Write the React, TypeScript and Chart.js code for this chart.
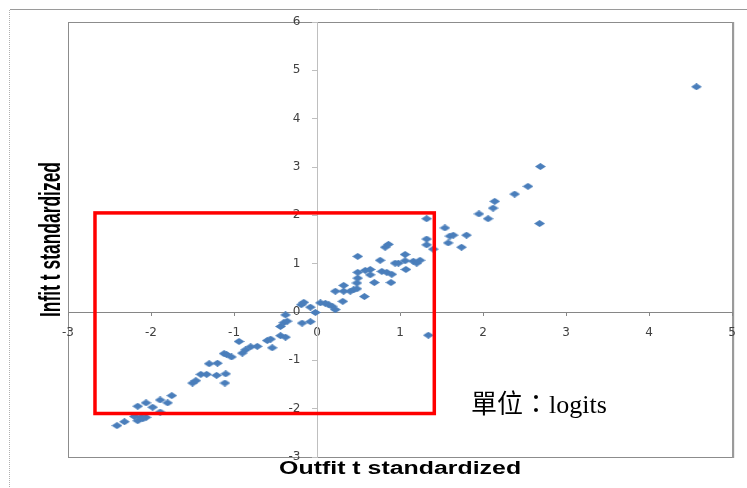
import React, { useEffect, useRef } from "react";
import { Chart, registerables } from "chart.js";

Chart.register(...registerables);

// Outfit t standardized (x) and Infit t standardized (y)
const OUTFIT_T: number[] = [
  -2.41, -2.32, -2.2, -2.12, -2.06, -2.16, -2.1, -2.16, -2.06, -1.98,
  -1.89, -1.8, -1.75, -1.89, -1.5, -1.46, -1.4, -1.33, -1.21, -1.1,
  -1.11, -1.3, -1.2, -1.12, -1.03, -1.09, -0.94, -0.9, -0.86, -0.8,
  -0.72, -0.6, -0.56, -0.54, -0.44, -0.38, -0.44, -0.4, -0.36, -0.38,
  -0.19, -0.16, -0.08, -0.18, -0.08, -0.02, 0.04, 0.1, 0.14, 0.18,
  0.22, 0.31, 0.22, 0.32, 0.32, 0.4, 0.44, 0.48, 0.48, 0.49,
  0.49, 0.49, 0.57, 0.58, 0.64, 0.64, 0.69, 0.76, 0.78, 0.84,
  0.9, 0.89, 0.82, 0.86, 0.94, 0.98, 1.06, 1.06, 1.07, 1.16,
  1.2, 1.24, 1.32, 1.32, 1.32, 1.4, 1.34, 1.54, 1.6, 1.64,
  1.58, 1.74, 1.8, 1.95, 2.06, 2.12, 2.14, 2.38, 2.54, 2.69,
  2.68, 4.57,
];
const INFIT_T: number[] = [
  -2.35, -2.27, -2.16, -2.17, -2.18, -2.25, -2.21, -1.95, -1.88, -1.97,
  -1.82, -1.88, -1.73, -2.07, -1.47, -1.42, -1.29, -1.29, -1.31, -1.28,
  -1.47, -1.07, -1.06, -0.86, -0.93, -0.88, -0.61, -0.85, -0.78, -0.72,
  -0.71, -0.59, -0.56, -0.74, -0.49, -0.52, -0.3, -0.22, -0.19, -0.06,
  0.15, 0.2, 0.1, -0.23, -0.2, -0.01, 0.19, 0.18, 0.15, 0.12,
  0.05, 0.22, 0.43, 0.43, 0.55, 0.43, 0.46, 0.48, 0.6, 0.7,
  0.82, 1.15, 0.32, 0.86, 0.88, 0.77, 0.61, 1.07, 0.84, 0.82,
  0.78, 0.61, 1.34, 1.4, 1.01, 1.01, 1.19, 1.06, 0.88, 1.05,
  1.01, 1.07, 1.93, 1.51, 1.39, 1.3, -0.48, 1.74, 1.57, 1.59,
  1.43, 1.34, 1.59, 2.03, 1.93, 2.15, 2.29, 2.44, 2.6, 3.01,
  1.83, 4.66,
];

const X_MIN = -3;
const X_MAX = 5;
const Y_MIN = -3;
const Y_MAX = 6;

const X_TITLE = "Outfit t standardized";
const Y_TITLE = "Infit t standardized";
const NOTE = "單位：logits";

// highlighted region (data units)
const BOX_X: number[] = [-2.675, 1.412];
const BOX_Y: number[] = [-2.1, 2.05];

const POINT_COLOR = "#4a7ebb";
const TICK_FONT = { family: "'DejaVu Sans', sans-serif", size: 12 };

function makeDiamond(): HTMLCanvasElement {
  const c = document.createElement("canvas");
  c.width = 11;
  c.height = 7;
  const g = c.getContext("2d")!;
  g.fillStyle = POINT_COLOR;
  g.beginPath();
  g.moveTo(5.5, 0);
  g.lineTo(11, 3.5);
  g.lineTo(5.5, 7);
  g.lineTo(0, 3.5);
  g.closePath();
  g.fill();
  return c;
}

const decor = {
  id: "decor",
  beforeDraw(chart: any) {
    const { ctx, chartArea: ca, width, height } = chart;
    ctx.save();
    ctx.fillStyle = "#ffffff";
    ctx.fillRect(0, 0, width, height);
    // outer frame
    ctx.strokeStyle = "#9a9a9a";
    ctx.lineWidth = 1;
    ctx.beginPath();
    ctx.moveTo(10, 9.5);
    ctx.lineTo(width, 9.5);
    ctx.stroke();
    ctx.strokeStyle = "#b0b0b0";
    ctx.setLineDash([1, 1]);
    ctx.beginPath();
    ctx.moveTo(9.5, 10);
    ctx.lineTo(9.5, height);
    ctx.stroke();
    ctx.setLineDash([]);
    // plot area border
    ctx.strokeStyle = "#8c8c8c";
    ctx.lineWidth = 1;
    ctx.strokeRect(ca.left + 0.5, ca.top + 0.5, ca.right - ca.left, ca.bottom - ca.top);
    ctx.strokeStyle = "#9a9a9a";
    ctx.lineWidth = 2;
    ctx.beginPath();
    ctx.moveTo(ca.right + 1, ca.top);
    ctx.lineTo(ca.right + 1, ca.bottom + 1);
    ctx.stroke();
    ctx.restore();
  },
  afterDatasetsDraw(chart: any) {
    const { ctx } = chart;
    const xs = chart.scales.x;
    const ys = chart.scales.y;
    const l = xs.getPixelForValue(BOX_X[0]);
    const r = xs.getPixelForValue(BOX_X[1]);
    const t = ys.getPixelForValue(BOX_Y[1]);
    const b = ys.getPixelForValue(BOX_Y[0]);
    ctx.save();
    ctx.strokeStyle = "#ff0000";
    ctx.lineWidth = 3.5;
    ctx.strokeRect(l, t, r - l, b - t);
    ctx.restore();
  },
  afterDraw(chart: any) {
    const { ctx, chartArea: ca } = chart;
    ctx.save();
    ctx.fillStyle = "#000000";
    // x title
    ctx.font = "bold 17px 'Liberation Sans', Arial, sans-serif";
    ctx.textAlign = "center";
    ctx.textBaseline = "alphabetic";
    const wx = ctx.measureText(X_TITLE).width;
    ctx.save();
    ctx.translate((ca.left + ca.right) / 2, 473.5);
    ctx.scale(242 / wx, 1.03);
    ctx.fillText(X_TITLE, 0, 0);
    ctx.restore();
    // y title
    const wy = ctx.measureText(Y_TITLE).width;
    ctx.save();
    ctx.translate(60, (ca.top + ca.bottom) / 2);
    ctx.rotate(-Math.PI / 2);
    ctx.scale(155 / wy, 21.7 / (0.716 * 17));
    ctx.fillText(Y_TITLE, 0, 0);
    ctx.restore();
    // note
    ctx.font = "26px 'Liberation Serif', 'Noto Sans CJK TC', serif";
    ctx.textAlign = "left";
    ctx.fillText(NOTE, 471, 413);
    ctx.restore();
  },
};

export default function App() {
  const ref = useRef<HTMLCanvasElement | null>(null);
  useEffect(() => {
    if (!ref.current) return;
    const diamond = makeDiamond();
    const points = OUTFIT_T.map((x, i) => ({ x, y: INFIT_T[i] }));
    const chart = new Chart(ref.current, {
      type: "scatter",
      data: {
        datasets: [
          {
            label: "items",
            data: points,
            pointStyle: diamond as any,
            pointRadius: 5,
            backgroundColor: POINT_COLOR,
            borderColor: POINT_COLOR,
          },
        ],
      },
      options: {
        animation: false,
        responsive: false,
        maintainAspectRatio: false,
        devicePixelRatio: 1,
        layout: { padding: { left: 68, top: 22, right: 13, bottom: 31 } },
        plugins: { legend: { display: false }, tooltip: { enabled: false } },
        scales: {
          x: {
            type: "linear",
            min: X_MIN,
            max: X_MAX,
            position: { y: 0 } as any,
            ticks: {
              stepSize: 1,
              autoSkip: false,
              maxRotation: 0,
              padding: 11,
              color: "#404040",
              font: TICK_FONT,
            },
            grid: { drawOnChartArea: false, drawTicks: true, tickLength: 3, color: "#868686" },
            border: { display: true, color: "#868686", width: 1 },
          },
          y: {
            type: "linear",
            min: Y_MIN,
            max: Y_MAX,
            position: { x: 0 } as any,
            ticks: { stepSize: 1, display: false },
            grid: { drawOnChartArea: false, drawTicks: true, tickLength: 5, color: "#bfbfbf" },
            border: { display: true, color: "#bfbfbf", width: 1 },
          },
          yLabels: {
            type: "linear",
            axis: "y",
            min: Y_MIN,
            max: Y_MAX,
            position: { x: -0.2 } as any,
            ticks: {
              stepSize: 1,
              autoSkip: false,
              color: "#404040",
              font: TICK_FONT,
            },
            grid: { display: false },
            border: { display: false },
          },
        },
      },
      plugins: [decor],
    });
    return () => chart.destroy();
  }, []);
  return (
    <div style={{ position: "absolute", left: 0, top: 0, width: 747, height: 488 }}>
      <canvas ref={ref} width={747} height={488} />
    </div>
  );
}
